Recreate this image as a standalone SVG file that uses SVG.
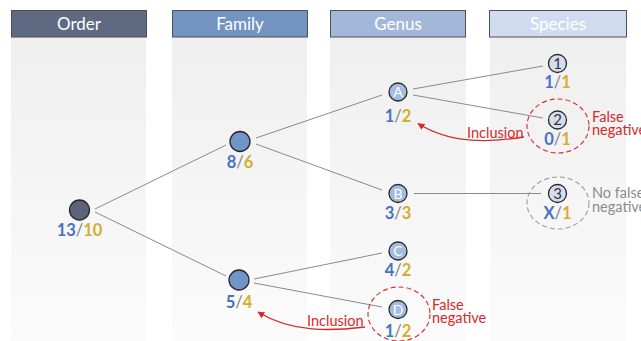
<svg xmlns="http://www.w3.org/2000/svg" width="641" height="341" viewBox="0 0 641 341">
  <defs>
    <linearGradient id="colFill" x1="0" y1="0" x2="0" y2="1">
      <stop offset="0" stop-color="#efefef"/>
      <stop offset="1" stop-color="#fbfbfb"/>
    </linearGradient>
    <marker id="redHead" viewBox="0 0 10 10" refX="9" refY="5" markerWidth="7" markerHeight="7" orient="auto" markerUnits="userSpaceOnUse">
      <path d="M0,0 L10,5 L0,10 z" fill="#d52a2a"/>
    </marker>
  </defs>
  <style>
    text { font-family: Lato, "Liberation Sans", sans-serif; }
    .col { fill: url(#colFill); }
    .hdr { stroke: #505050; stroke-width: 1; }
    .hdrText { font-size: 17px; fill: #ffffff; text-anchor: middle; }
    .edge { stroke: #8a8a8a; stroke-width: 1; fill: none; }
    .node { stroke: #262626; stroke-width: 1.3; }
    .ord { fill: #5b6479; }
    .fam { fill: #7095c6; }
    .gen { fill: #a3bbdf; }
    .spe { fill: #d4deef; }
    .letterW { font-size: 14px; fill: #ffffff; text-anchor: middle; }
    .letterD { font-size: 15px; fill: #333333; text-anchor: middle; }
    .num { font-size: 16.5px; font-weight: bold; text-anchor: middle; }
    .b { fill: #4472c4; }
    .y { fill: #d6ad2e; }
    .s { fill: #7f7f7f; font-weight: normal; }
    .red { fill: #d52a2a; font-size: 14.5px; }
    .grey { fill: #8c8c8c; font-size: 14.5px; }
    .ringRed { fill: none; stroke: #d52a2a; stroke-width: 1.1; stroke-dasharray: 5 3; }
    .ringGrey { fill: none; stroke: #9a9a9a; stroke-width: 1.1; stroke-dasharray: 5 3; }
    .incl { fill: none; stroke: #d52a2a; stroke-width: 1.3; }
  </style>

  <!-- column bands -->
  <g id="columns">
    <rect class="col" x="11" y="37" width="135" height="304"/>
    <rect class="col" x="172" y="37" width="135" height="304"/>
    <rect class="col" x="330" y="37" width="136" height="304"/>
    <rect class="col" x="490" y="37" width="136" height="304"/>
  </g>

  <!-- column headers -->
  <g id="headers">
    <rect class="hdr" x="11.5" y="10.5" width="135" height="26.5" fill="#5e6a82"/>
    <text class="hdrText" x="79" y="29.5" fill="#e8eaef">Order</text>
    <rect class="hdr" x="172.5" y="10.5" width="135" height="26.5" fill="#7394c0"/>
    <text class="hdrText" x="240" y="29.5">Family</text>
    <rect class="hdr" x="330.5" y="10.5" width="135" height="26.5" fill="#a3b8d9"/>
    <text class="hdrText" x="398" y="29.5">Genus</text>
    <rect class="hdr" x="489.5" y="10.5" width="137" height="26.5" fill="#cfdcf0"/>
    <text class="hdrText" x="558" y="29.5">Species</text>
  </g>

  <!-- connectors -->
  <g id="connectors">
    <line class="edge" x1="95" y1="209" x2="226" y2="145"/>
    <line class="edge" x1="95" y1="212" x2="226" y2="276"/>
    <line class="edge" x1="256" y1="138" x2="382" y2="95"/>
    <line class="edge" x1="256" y1="144" x2="382" y2="190"/>
    <line class="edge" x1="254" y1="279" x2="382" y2="253"/>
    <line class="edge" x1="254" y1="283" x2="382" y2="307"/>
    <line class="edge" x1="413" y1="89" x2="543" y2="66"/>
    <line class="edge" x1="413" y1="95" x2="543" y2="118"/>
    <line class="edge" x1="414" y1="193.5" x2="541" y2="193.5"/>
    <path class="incl" d="M524,137 C492,142 452,145 418,123.5" marker-end="url(#redHead)"/>
    <path class="incl" d="M365,327 C332,331 292,333 258,312" marker-end="url(#redHead)"/>
  </g>

  <!-- order -->
  <g id="order">
    <circle class="node ord" cx="79.5" cy="210" r="10"/>
    <text class="num" x="79.5" y="236"><tspan class="b">13</tspan><tspan class="s">/</tspan><tspan class="y">10</tspan></text>
  </g>

  <!-- families -->
  <g id="family-1">
    <circle class="node fam" cx="240" cy="141.5" r="10"/>
    <text class="num" x="240" y="168"><tspan class="b">8</tspan><tspan class="s">/</tspan><tspan class="y">6</tspan></text>
  </g>
  <g id="family-2">
    <circle class="node fam" cx="239" cy="280" r="10"/>
    <text class="num" x="239" y="308"><tspan class="b">5</tspan><tspan class="s">/</tspan><tspan class="y">4</tspan></text>
  </g>

  <!-- genera -->
  <g id="genus-a">
    <circle class="node gen" cx="398" cy="92" r="9"/>
    <text class="letterW" x="398" y="97">A</text>
    <text class="num" x="398" y="122"><tspan class="b">1</tspan><tspan class="s">/</tspan><tspan class="y">2</tspan></text>
  </g>
  <g id="genus-b">
    <circle class="node gen" cx="398" cy="193.5" r="9"/>
    <text class="letterW" x="398" y="198.5">B</text>
    <text class="num" x="398" y="218.5"><tspan class="b">3</tspan><tspan class="s">/</tspan><tspan class="y">3</tspan></text>
  </g>
  <g id="genus-c">
    <circle class="node gen" cx="398" cy="251" r="9"/>
    <text class="letterW" x="398" y="256">C</text>
    <text class="num" x="398" y="275.5"><tspan class="b">4</tspan><tspan class="s">/</tspan><tspan class="y">2</tspan></text>
  </g>
  <g id="genus-d">
    <ellipse class="ringRed" cx="399" cy="314" rx="31" ry="27"/>
    <circle class="node gen" cx="398" cy="309.5" r="9"/>
    <text class="letterW" x="398" y="314.5">D</text>
    <text class="num" x="398" y="337"><tspan class="b">1</tspan><tspan class="s">/</tspan><tspan class="y">2</tspan></text>
    <text class="red" x="432" y="309.5">False</text>
    <text class="red" x="432" y="323">negative</text>
    <text class="red" x="307" y="326">Inclusion</text>
  </g>

  <!-- species -->
  <g id="species-1">
    <circle class="node spe" cx="557.5" cy="63.5" r="9"/>
    <text class="letterD" x="557.5" y="68.5">1</text>
    <text class="num" x="557.5" y="88"><tspan class="b">1</tspan><tspan class="s">/</tspan><tspan class="y">1</tspan></text>
  </g>
  <g id="species-2">
    <ellipse class="ringRed" cx="558" cy="126" rx="31" ry="27"/>
    <circle class="node spe" cx="557.5" cy="120" r="9"/>
    <text class="letterD" x="557.5" y="125">2</text>
    <text class="num" x="557.5" y="145"><tspan class="b">0</tspan><tspan class="s">/</tspan><tspan class="y">1</tspan></text>
    <text class="red" x="592" y="121.5">False</text>
    <text class="red" x="592" y="135">negative</text>
    <text class="red" x="467" y="137.5">Inclusion</text>
  </g>
  <g id="species-3">
    <ellipse class="ringGrey" cx="558" cy="203" rx="31" ry="26"/>
    <circle class="node spe" cx="557.5" cy="193.5" r="9"/>
    <text class="letterD" x="557.5" y="198.5">3</text>
    <text class="num" x="557.5" y="218.5"><tspan class="b">X</tspan><tspan class="s">/</tspan><tspan class="y">1</tspan></text>
    <text class="grey" x="592" y="198">No false</text>
    <text class="grey" x="592" y="211.5">negative</text>
  </g>
</svg>
